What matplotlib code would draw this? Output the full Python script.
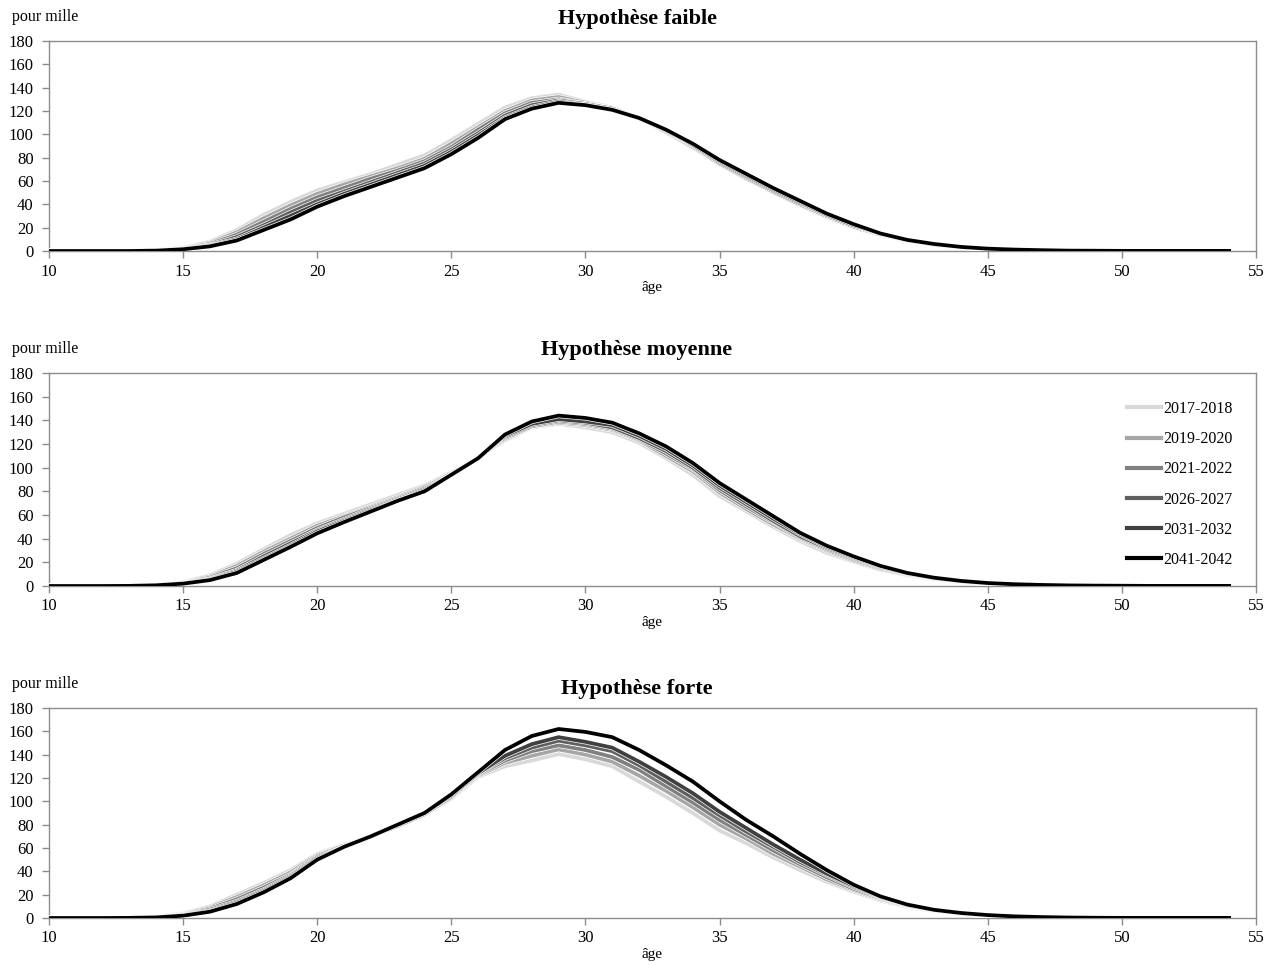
import matplotlib
matplotlib.use("Agg")
import matplotlib.pyplot as plt
import matplotlib.patheffects as pe
import numpy as np

ages = list(range(10, 55))
series_labels = ["2017-2018", "2019-2020", "2021-2022", "2026-2027", "2031-2032", "2041-2042"]
series_colors = ["#d9d9d9", "#a6a6a6", "#808080", "#5f5f5f", "#404040", "#000000"]
panel_titles = ["Hypothèse faible", "Hypothèse moyenne", "Hypothèse forte"]
x_ticks = [10, 15, 20, 25, 30, 35, 40, 45, 50, 55]
y_ticks = [0, 20, 40, 60, 80, 100, 120, 140, 160, 180]

# --- Hypothèse faible ---
faible_2017 = [0, 0, 0, 0.1, 0.8, 3, 8, 18, 31, 42, 52, 59, 66, 74, 82, 95, 109, 123, 131, 134, 128, 123, 114, 102, 89, 74, 62, 50, 39, 29, 20, 13.5, 8.5, 5, 3, 1.6, 0.9, 0.5, 0.3, 0.2, 0.1, 0.1, 0.1, 0.1, 0.1]
faible_2019 = [0, 0, 0, 0.1, 0.7, 2.6, 7, 16, 28, 39, 49, 57, 64, 71, 79, 92, 106, 120, 129, 132, 127, 122, 114, 102, 89, 75, 62, 51, 40, 30, 21, 14, 8.8, 5.2, 3.1, 1.7, 1, 0.5, 0.3, 0.2, 0.1, 0.1, 0.1, 0.1, 0.1]
faible_2021 = [0, 0, 0, 0.1, 0.6, 2.3, 6, 14, 25, 36, 46, 54, 62, 69, 77, 89, 104, 118, 127, 130, 126, 122, 114, 103, 90, 75, 63, 51, 40, 30, 21, 14, 9, 5.4, 3.2, 1.8, 1, 0.6, 0.3, 0.2, 0.1, 0.1, 0.1, 0.1, 0.1]
faible_2026 = [0, 0, 0, 0, 0.5, 2, 5, 12, 22, 33, 43, 51, 59, 67, 75, 87, 101, 116, 125, 129, 126, 122, 114, 103, 91, 76, 64, 52, 41, 31, 22, 14.5, 9.2, 5.6, 3.3, 1.9, 1.1, 0.6, 0.3, 0.2, 0.1, 0.1, 0.1, 0.1, 0.1]
faible_2031 = [0, 0, 0, 0, 0.4, 1.7, 4.5, 10, 20, 30, 40, 49, 57, 65, 73, 85, 99, 114, 123, 128, 125, 121, 114, 104, 91, 77, 65, 53, 42, 31, 22, 15, 9.3, 5.8, 3.4, 2, 1.1, 0.6, 0.3, 0.2, 0.1, 0.1, 0.1, 0.1, 0.1]
faible_2041 = [0, 0, 0, 0, 0.3, 1.5, 4, 9, 18, 27, 38, 47, 55, 63, 71, 83, 97, 113, 122, 127, 125, 121, 114, 104, 92, 78, 66, 54, 43, 32, 23, 15, 9.5, 6, 3.5, 2, 1.2, 0.7, 0.3, 0.2, 0.1, 0.1, 0.1, 0.1, 0.1]

# --- Hypothèse moyenne ---
moyenne_2017 = [0, 0, 0, 0.2, 1, 3.5, 9, 19, 31, 43, 53, 61, 69, 77, 85, 96, 108, 123, 134, 137, 134, 130, 121, 108, 94, 76, 63, 50, 38, 28, 20.5, 13.5, 9, 5.5, 3.3, 1.8, 1, 0.6, 0.3, 0.2, 0.1, 0.1, 0.1, 0.1, 0.1]
moyenne_2019 = [0, 0, 0, 0.2, 0.9, 3.1, 8, 17, 29, 40, 51, 59, 67, 75, 84, 95, 108, 124, 135, 138, 136, 132, 123, 110, 97, 79, 65, 52, 40, 30, 21.5, 14.3, 9.5, 5.9, 3.6, 2, 1.1, 0.7, 0.4, 0.2, 0.1, 0.1, 0.1, 0.1, 0.1]
moyenne_2021 = [0, 0, 0, 0.1, 0.8, 2.8, 7, 15, 27, 38, 49, 58, 66, 74, 83, 95, 108, 125, 135, 139, 137, 133, 124, 112, 99, 81, 67, 54, 41, 31, 22.5, 15, 10, 6.2, 3.8, 2.1, 1.2, 0.7, 0.4, 0.2, 0.1, 0.1, 0.1, 0.1, 0.1]
moyenne_2026 = [0, 0, 0, 0.1, 0.7, 2.5, 6, 13, 25, 36, 47, 56, 65, 73, 82, 94, 108, 126, 136, 140, 138, 134, 125, 114, 100, 83, 69, 55, 42, 32, 23.5, 15.8, 10.3, 6.5, 4, 2.3, 1.3, 0.8, 0.4, 0.2, 0.1, 0.1, 0.1, 0.1, 0.1]
moyenne_2031 = [0, 0, 0, 0.1, 0.6, 2.2, 5.5, 12, 23, 34, 46, 55, 64, 72, 81, 94, 108, 127, 137, 141, 139, 136, 127, 116, 102, 85, 71, 57, 44, 33, 24.2, 16.4, 10.7, 6.8, 4.2, 2.4, 1.4, 0.8, 0.5, 0.3, 0.2, 0.1, 0.1, 0.1, 0.1]
moyenne_2041 = [0, 0, 0, 0.1, 0.6, 2, 5, 11, 22, 33, 44.5, 54, 63, 72, 80, 94, 108, 128, 139, 144, 142, 138, 129, 118, 104, 87, 73, 59, 45, 34, 25, 17, 11, 7, 4.3, 2.5, 1.5, 0.9, 0.5, 0.3, 0.2, 0.1, 0.1, 0.1, 0.1]

# --- Hypothèse forte ---
forte_2017 = [0, 0, 0, 0.2, 1.2, 4, 10, 20, 30, 41, 55, 63, 70, 79, 89, 102, 121, 130, 135, 140.5, 136, 130, 117, 104, 90, 75, 64, 52, 41, 31, 22.5, 15, 9.5, 5.8, 3.4, 1.9, 1, 0.5, 0.3, 0.2, 0.1, 0.1, 0.1, 0.1, 0.1]
forte_2019 = [0, 0, 0, 0.2, 1, 3.5, 9, 18, 28, 39, 54, 62, 70, 79, 89, 103, 122, 133, 139, 144.5, 140, 134, 122, 109, 95, 80, 68, 55, 44, 33, 24, 16, 10, 6.1, 3.6, 2, 1.1, 0.6, 0.3, 0.2, 0.1, 0.1, 0.1, 0.1, 0.1]
forte_2021 = [0, 0, 0, 0.2, 0.9, 3, 8, 16, 26, 37, 53, 62, 70, 79, 89, 104, 123, 135, 143, 148, 144, 138, 127, 113, 99, 84, 71, 58, 46, 35, 25, 16.8, 10.4, 6.4, 3.8, 2.2, 1.2, 0.7, 0.3, 0.2, 0.1, 0.1, 0.1, 0.1, 0.1]
forte_2026 = [0, 0, 0, 0.1, 0.7, 2.6, 7, 14, 24, 36, 52, 61, 70, 79, 89, 104, 124, 137, 146, 152, 148, 143, 131, 117, 103, 88, 74, 61, 48, 37, 26.5, 17.5, 10.8, 6.6, 4, 2.3, 1.3, 0.7, 0.4, 0.2, 0.1, 0.1, 0.1, 0.1, 0.1]
forte_2031 = [0, 0, 0, 0.1, 0.6, 2.3, 6, 13, 23, 35, 51, 61, 70, 80, 90, 105, 124, 139, 149, 155, 151, 146, 134, 121, 107, 91, 77, 63, 50, 38, 27.5, 18, 11.2, 6.8, 4.2, 2.4, 1.3, 0.8, 0.4, 0.2, 0.1, 0.1, 0.1, 0.1, 0.1]
forte_2041 = [0, 0, 0, 0.1, 0.5, 2, 5.4, 12, 22, 34, 50, 61, 70, 80, 90, 106, 125, 144, 156, 162, 159.5, 155, 144, 131, 117, 100, 84, 70, 55, 41, 28.5, 18.5, 11.5, 7, 4.3, 2.5, 1.4, 0.8, 0.4, 0.2, 0.1, 0.1, 0.1, 0.1, 0.1]

panels = [
    [faible_2017, faible_2019, faible_2021, faible_2026, faible_2031, faible_2041],
    [moyenne_2017, moyenne_2019, moyenne_2021, moyenne_2026, moyenne_2031, moyenne_2041],
    [forte_2017, forte_2019, forte_2021, forte_2026, forte_2031, forte_2041],
]

plt.rcParams['font.family'] = ['Liberation Serif', 'DejaVu Serif']

W, H = 1273, 965
fig = plt.figure(figsize=(W / 100, H / 100), dpi=100)

# axes boxes in pixel coords: (top, bottom)
boxes = [(41, 251), (373, 586), (708, 918)]
title_y = [19, 350, 689]
left_px, right_px = 49, 1256
spine_col = "#8c8c8c"

for i, (top, bot) in enumerate(boxes):
    ax = fig.add_axes([left_px / W, 1 - bot / H, (right_px - left_px) / W, (bot - top) / H])
    for j, vals in enumerate(panels[i]):
        assert len(vals) == len(ages)
        ax.plot(ages, vals, color=series_colors[j], lw=2.7, label=series_labels[j],
                solid_joinstyle='round', zorder=2 + j,
                path_effects=[pe.Stroke(linewidth=3.7, foreground='white'), pe.Normal()])
    ax.set_xlim(10, 55)
    ax.set_ylim(0, 180)
    ax.set_xticks(x_ticks)
    ax.set_yticks(y_ticks)
    ax.tick_params(axis='both', direction='out', length=5, width=1, color=spine_col,
                   labelsize=12)
    ax.tick_params(axis='x', pad=4)
    ax.tick_params(axis='y', pad=6)
    for s in ax.spines.values():
        s.set_color(spine_col)
        s.set_linewidth(1.0)
    ax.set_xlabel("âge", fontsize=11, labelpad=1)
    fig.text(637 / W, 1 - title_y[i] / H, panel_titles[i], ha='center', va='center',
             fontsize=16, fontweight='bold')
    fig.text(12 / W, 1 - (top - 24) / H, "pour mille", ha='left', va='center', fontsize=11.5)
    if i == 1:
        leg = ax.legend(loc='upper left', bbox_to_anchor=(1127 / W, 1 - 401 / H),
                        bbox_transform=fig.transFigure, frameon=False, fontsize=11.5,
                        handlelength=2.1, handletextpad=0.15, labelspacing=0.89,
                        borderpad=0, borderaxespad=0)
        for h in leg.get_lines():
            h.set_linewidth(3)
            h.set_path_effects([])

fig.savefig("out.png", dpi=100, facecolor='white')
